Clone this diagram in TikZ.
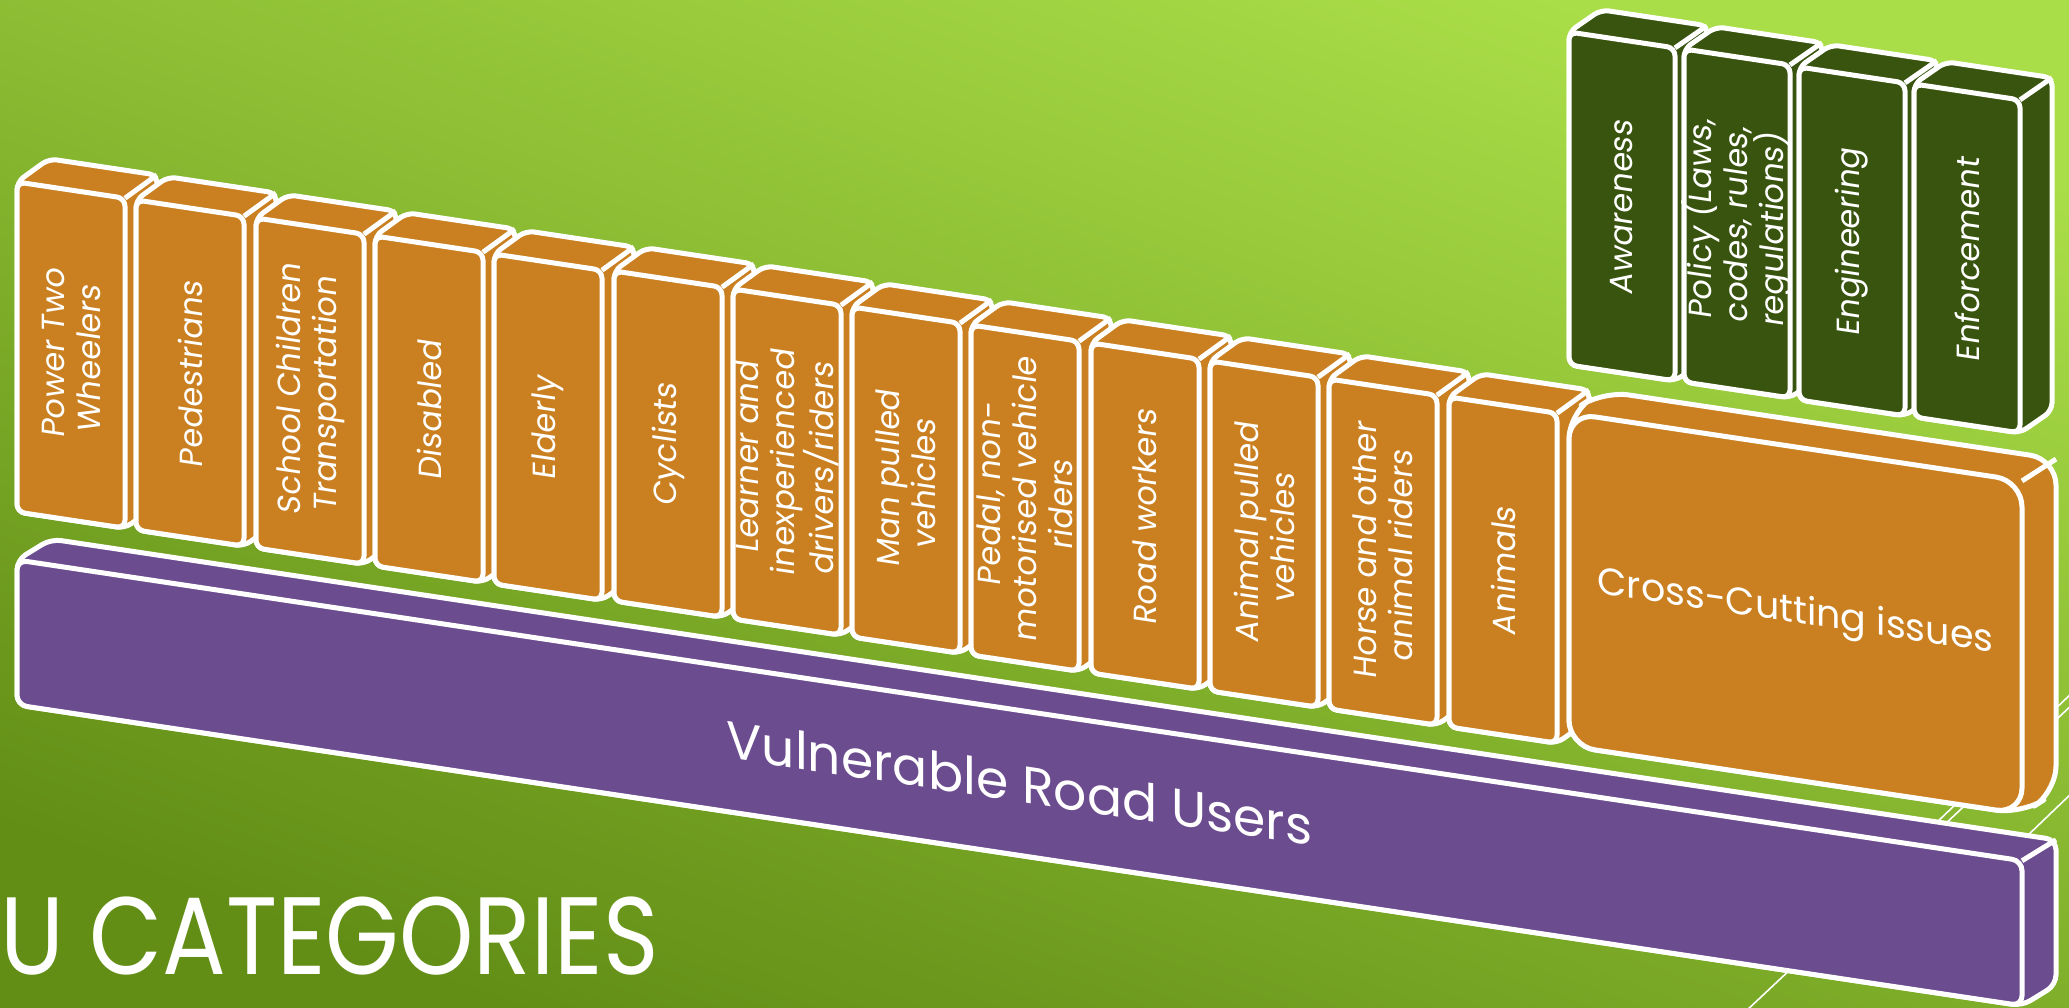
\documentclass[tikz,border=0pt]{standalone}
\usepackage{fontspec}
\setmainfont{Poppins}
\definecolor{bgtop}{RGB}{170,222,72}
\definecolor{bgbot}{RGB}{98,142,22}
\definecolor{vruorange}{RGB}{202,128,32}
\definecolor{vrupurple}{RGB}{107,76,143}
\definecolor{vrugreen}{RGB}{56,84,14}
\tikzset{
  edge/.style={draw=white, line width=5pt, line join=round},
  lbl/.style={text=white, align=center, inner sep=0pt, rotate=90,
    font=\fontsize{32}{36}\selectfont},
  deco/.style={draw=white, line width=1.6pt},
}
% 3D slab: name, x, y (top left of front face), width, height, fill, text
\def\blockdx{32}\def\blockdy{-28}\def\blockr{8pt}
\newcommand{\block}[7]{%
 \begin{scope}[shift={(#2,#3)}, yslant=-0.15]
  \filldraw[edge, fill=#6, rounded corners=\blockr] (0,0) -- (\blockdx,\blockdy)
    -- ({#4+\blockdx},\blockdy) -- ({#4+\blockdx},{#5+\blockdy}) -- (#4,#5) -- (0,#5) -- cycle;
  \draw[edge] (#4,0) -- ({#4+\blockdx},\blockdy);
  \filldraw[edge, fill=#6, rounded corners=\blockr] (0,0) rectangle (#4,#5);
  \node[lbl, transform shape] (#1) at ({#4/2},{#5/2}) {#7};
 \end{scope}}
\begin{document}
\begin{tikzpicture}[x=1pt, y=-1pt]
\useasboundingbox (0,0) rectangle (2069,1008);
\clip (0,0) rectangle (2069,1008);
\shade[top color=bgtop, bottom color=bgbot, shading angle=-20] (-10,-10) rectangle (2079,1018);
% thin lines of the slide
\draw[deco] (1745,1012) -- (2075,702);
\draw[deco] (1840,915) -- (2075,690);
\draw[deco] (1950,910) -- (2075,790);
% base
\begin{scope}
 \def\blockdx{34}\def\blockdy{-26}\def\blockr{10pt}
 \tikzset{lbl/.append style={rotate=-90, font=\fontsize{52}{60}\selectfont}}
 \block{vru}{17}{560}{2005}{145}{vrupurple}{Vulnerable Road Users}
\end{scope}
% road user categories
\block{c1}{17}{182}{108}{330}{vruorange}{Power Two\\Wheelers}
\block{c2}{136}{200}{108}{330}{vruorange}{Pedestrians}
\block{c3}{256}{218}{108}{330}{vruorange}{School Children\\Transportation}
\block{c4}{375}{236}{108}{330}{vruorange}{Disabled}
\block{c5}{494}{254}{108}{330}{vruorange}{Elderly}
\block{c6}{614}{271}{108}{330}{vruorange}{Cyclists}
\block{c7}{733}{289}{108}{330}{vruorange}{Learner and\\inexperienced\\drivers/riders}
\block{c8}{852}{307}{108}{330}{vruorange}{Man pulled\\vehicles}
\block{c9}{971}{325}{108}{330}{vruorange}{Pedal, non-\\motorised vehicle\\riders}
\block{c10}{1091}{343}{108}{330}{vruorange}{Road workers}
\block{c11}{1210}{361}{108}{330}{vruorange}{Animal pulled\\vehicles}
\block{c12}{1329}{379}{108}{330}{vruorange}{Horse and other\\animal riders}
\block{c13}{1449}{397}{108}{330}{vruorange}{Animals}
\begin{scope}
 \def\blockdx{34}\def\blockdy{-27}\def\blockr{26pt}
 \tikzset{lbl/.append style={rotate=-90, font=\fontsize{38}{44}\selectfont}}
 \block{cross}{1569}{413}{453}{333}{vruorange}{Cross-Cutting issues}
\end{scope}
% interventions
\begin{scope}
 \def\blockdy{-27}
 \block{g1}{1569}{32}{106}{333}{vrugreen}{Awareness}
 \block{g2}{1684}{49}{106}{333}{vrugreen}{Policy (Laws,\\codes, rules,\\regulations)}
 \block{g3}{1799}{67}{106}{333}{vrugreen}{Engineering}
 \block{g4}{1914}{84}{106}{333}{vrugreen}{Enforcement}
\end{scope}
\node[text=white, anchor=base west, xscale=0.86, inner sep=0pt,
  font=\fontsize{110}{110}\selectfont] (cat) at (0,974) {U CATEGORIES};
\end{tikzpicture}
\end{document}
